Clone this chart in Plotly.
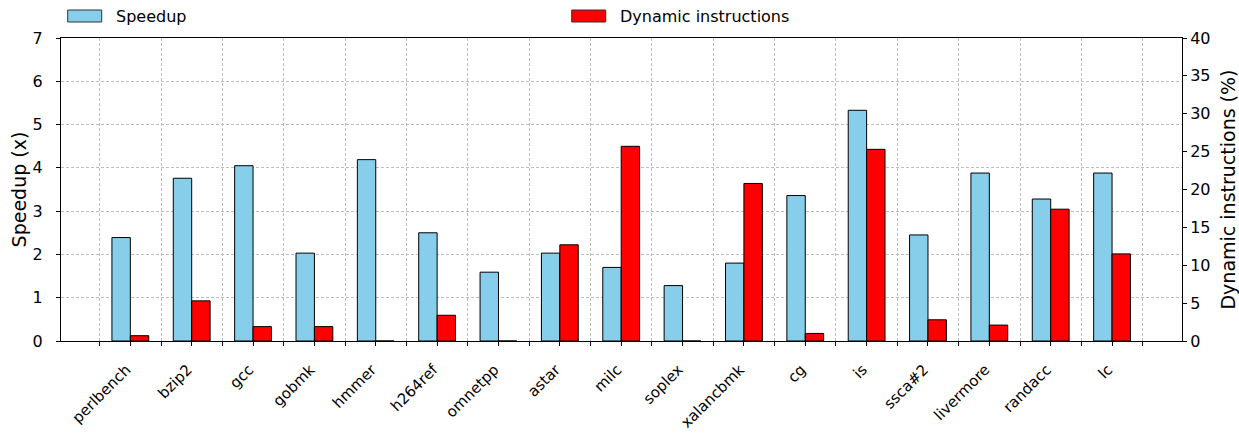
import plotly.graph_objects as go

benchmarks = ["perlbench", "bzip2", "gcc", "gobmk", "hmmer", "h264ref", "omnetpp",
              "astar", "milc", "soplex", "xalancbmk", "cg", "is", "ssca#2",
              "livermore", "randacc", "lc"]
speedup = [2.39, 3.76, 4.05, 2.03, 4.19, 2.50, 1.59, 2.03, 1.70, 1.28, 1.80,
           3.36, 5.33, 2.45, 3.88, 3.28, 3.88]
dyn_instr = [0.7, 5.3, 1.9, 1.9, 0.0, 3.4, 0.0, 12.7, 25.7, 0.0, 20.8,
             1.0, 25.3, 2.8, 2.1, 17.4, 11.5]

SPEEDUP_COLOR = "#87CEEB"
DYN_COLOR = "#FF0000"

idx = list(range(len(benchmarks)))
bar_w = 0.3
font = "DejaVu Sans"

fig = go.Figure()
fig.add_trace(go.Bar(
    x=idx, y=speedup, name="Speedup", width=bar_w, offset=-bar_w,
    marker=dict(color=SPEEDUP_COLOR, line=dict(color="black", width=1)),
    yaxis="y", showlegend=False,
))
fig.add_trace(go.Bar(
    x=idx, y=dyn_instr, name="Dynamic instructions", width=bar_w, offset=0,
    marker=dict(color=DYN_COLOR, line=dict(color="black", width=1)),
    yaxis="y2", showlegend=False,
))

grid = dict(gridcolor="#bdbdbd", griddash="3px,2px", gridwidth=1)

# Legend drawn above the frame: wide patches followed by labels
legend_entries = [("Speedup", SPEEDUP_COLOR, 6.7), ("Dynamic instructions", DYN_COLOR, 510.7)]
for label, color, px in legend_entries:
    fig.add_shape(type="rect", xref="paper", yref="paper",
                  xsizemode="pixel", ysizemode="pixel", xanchor=0, yanchor=1,
                  x0=px, x1=px + 34, y0=16, y1=28,
                  fillcolor=color, line=dict(color="#333333", width=1))
    fig.add_annotation(xref="paper", yref="paper", x=0, y=1, xanchor="left",
                       yanchor="middle", xshift=px + 46, yshift=22,
                       text=label, showarrow=False, font=dict(size=16))

fig.update_layout(
    width=1239, height=433,
    margin=dict(l=61, r=57, t=38, b=92),
    paper_bgcolor="white", plot_bgcolor="white",
    font=dict(family=font, size=16, color="black"),
    barmode="overlay",
    showlegend=False,
    xaxis=dict(
        range=[-1.13, 17.14], automargin=False,
        tickmode="array", tickvals=idx, ticktext=benchmarks, tickangle=-45,
        tickfont=dict(size=15), ticklabelstandoff=9, ticklabelshift=-4,
        ticks="outside", ticklen=4, tickcolor="black",
        showgrid=False, zeroline=False,
        showline=True, linecolor="black", linewidth=1, mirror=True,
        minor=dict(tickmode="array", tickvals=[i + 0.5 for i in [-1] + idx],
                   ticks="outside", ticklen=4, tickcolor="black",
                   showgrid=True, **grid),
    ),
    yaxis=dict(
        range=[0, 7], dtick=1, automargin=False,
        title=dict(text="Speedup (x)", standoff=0),
        ticks="outside", ticklen=4, tickcolor="black", ticklabelstandoff=10,
        showgrid=True, zeroline=False,
        showline=True, linecolor="black", linewidth=1,
        **grid,
    ),
    yaxis2=dict(
        range=[0, 40], dtick=5, overlaying="y", side="right", automargin=False,
        title=dict(text="Dynamic instructions (%)", standoff=12),
        ticks="outside", ticklen=4, tickcolor="black",
        showgrid=False, zeroline=False,
        showline=True, linecolor="black", linewidth=1,
    ),
)

fig.write_html("out.html")
